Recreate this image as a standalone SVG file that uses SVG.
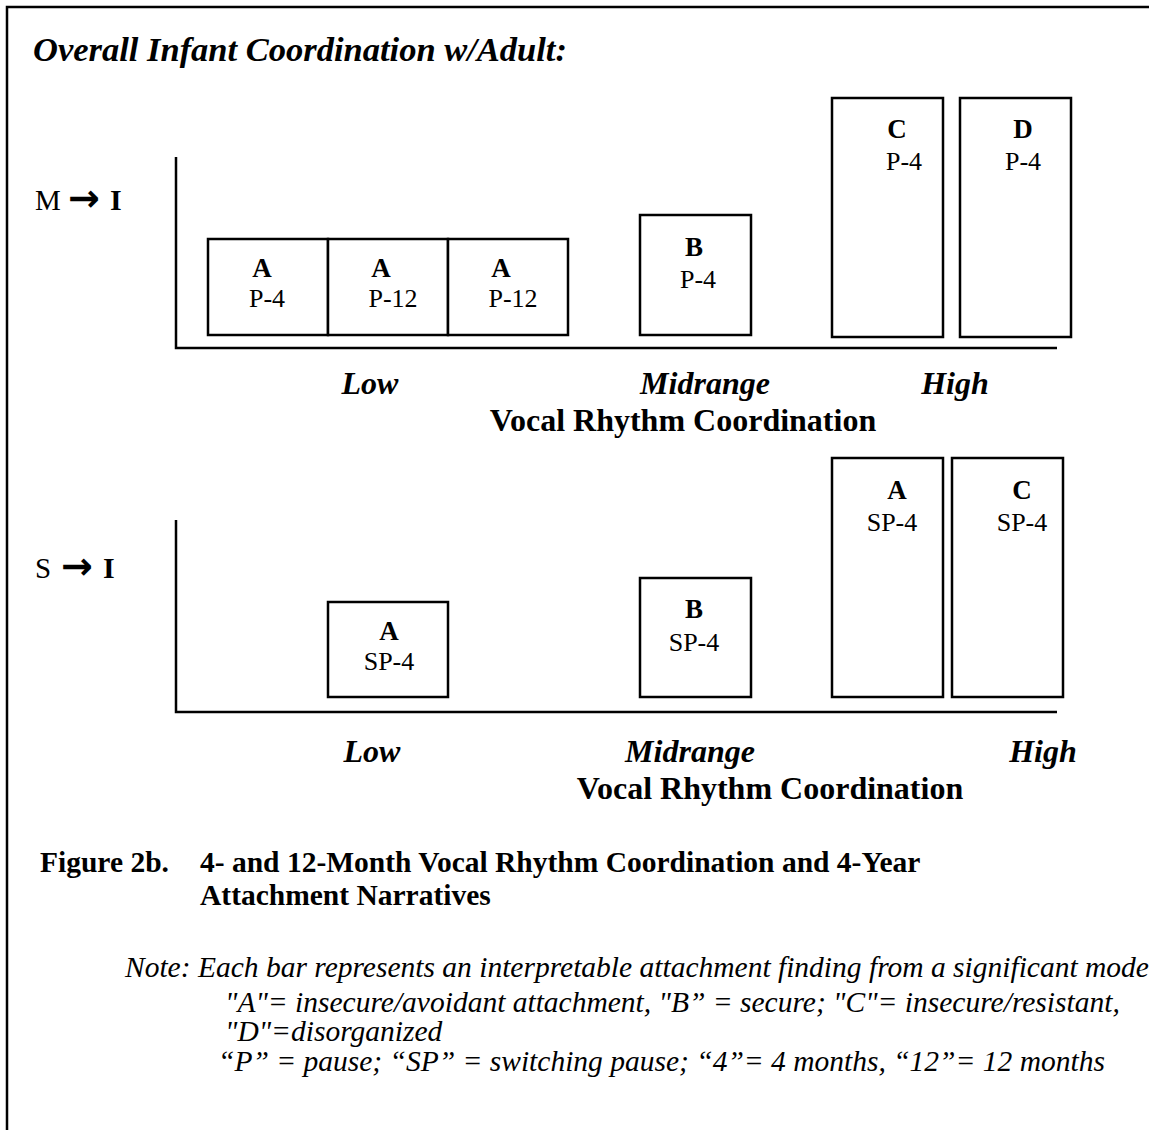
<svg xmlns="http://www.w3.org/2000/svg" width="1149" height="1130" viewBox="0 0 1149 1130">
<style>
text{font-family:"Liberation Serif","Times New Roman",serif;fill:#000}
.t{font-size:34.5px;font-weight:bold;font-style:italic}
.lab{font-size:29px}
.b{font-weight:bold;font-size:30px}
.arr{font-family:"DejaVu Sans",sans-serif;font-weight:bold;font-size:38px}
.bar{fill:#fff;stroke:#000;stroke-width:2.5}
.ax{stroke:#000;stroke-width:2.5;fill:none}
.ltr{font-size:27px;font-weight:bold;text-anchor:middle}
.cd{font-size:26px;text-anchor:middle}
.rng{font-size:32px;font-weight:bold;font-style:italic;text-anchor:middle}
.vt{font-size:32px;font-weight:bold;text-anchor:middle}
.cap{font-size:29.5px;font-weight:bold}
.note{font-size:29.5px;font-style:italic}
</style>
<g id="frame"><path class="ax" d="M7 1130 V7 H1149"/></g>
<text id="title" class="t" x="33" y="61">Overall Infant Coordination w/Adult:</text>

<g id="chart1">
<text class="lab" x="35" y="210">M<tspan class="arr" x="68" dy="1">→</tspan><tspan class="b" x="110" dy="-1">I</tspan></text>
<g id="axes1"><path class="ax" d="M176 157 V348 H1057"/></g>
<g id="bar1-a1"><rect class="bar" x="208" y="239" width="120" height="96"/><text class="ltr" x="262" y="277">A</text><text class="cd" x="267" y="307">P-4</text></g>
<g id="bar1-a2"><rect class="bar" x="328" y="239" width="120" height="96"/><text class="ltr" x="381" y="277">A</text><text class="cd" x="393" y="307">P-12</text></g>
<g id="bar1-a3"><rect class="bar" x="448" y="239" width="120" height="96"/><text class="ltr" x="501" y="277">A</text><text class="cd" x="513" y="307">P-12</text></g>
<g id="bar1-b"><rect class="bar" x="640" y="215" width="111" height="120"/><text class="ltr" x="694" y="256">B</text><text class="cd" x="698" y="288">P-4</text></g>
<g id="bar1-c"><rect class="bar" x="832" y="98" width="111" height="239"/><text class="ltr" x="897" y="138">C</text><text class="cd" x="904" y="170">P-4</text></g>
<g id="bar1-d"><rect class="bar" x="960" y="98" width="111" height="239"/><text class="ltr" x="1023" y="138">D</text><text class="cd" x="1023" y="170">P-4</text></g>
<text class="rng" x="370" y="394">Low</text>
<text class="rng" x="705" y="394">Midrange</text>
<text class="rng" x="955" y="394">High</text>
<text class="vt" x="683" y="431">Vocal Rhythm Coordination</text>
</g>

<g id="chart2">
<text class="lab" x="35" y="578">S<tspan class="arr" x="61" dy="1">→</tspan><tspan class="b" x="103" dy="-1">I</tspan></text>
<g id="axes2"><path class="ax" d="M176 520 V712 H1057"/></g>
<g id="bar2-a1"><rect class="bar" x="328" y="602" width="120" height="95"/><text class="ltr" x="389" y="640">A</text><text class="cd" x="389" y="670">SP-4</text></g>
<g id="bar2-b"><rect class="bar" x="640" y="578" width="111" height="119"/><text class="ltr" x="694" y="618">B</text><text class="cd" x="694" y="651">SP-4</text></g>
<g id="bar2-a2"><rect class="bar" x="832" y="458" width="111" height="239"/><text class="ltr" x="897" y="499">A</text><text class="cd" x="892" y="531">SP-4</text></g>
<g id="bar2-c"><rect class="bar" x="952" y="458" width="111" height="239"/><text class="ltr" x="1022" y="499">C</text><text class="cd" x="1022" y="531">SP-4</text></g>
<text class="rng" x="372" y="762">Low</text>
<text class="rng" x="690" y="762">Midrange</text>
<text class="rng" x="1043" y="762">High</text>
<text class="vt" x="770" y="799">Vocal Rhythm Coordination</text>
</g>

<g id="caption">
<text class="cap" x="40" y="872">Figure 2b.</text>
<text class="cap" x="200" y="872">4- and 12-Month Vocal Rhythm Coordination and 4-Year</text>
<text class="cap" x="200" y="905">Attachment Narratives</text>
</g>
<g id="note">
<text class="note" x="125" y="977">Note: Each bar represents an interpretable attachment finding from a significant mode</text>
<text class="note" x="225" y="1012">"A"= insecure/avoidant attachment, "B” = secure; "C"= insecure/resistant,</text>
<text class="note" x="225" y="1041">"D"=disorganized</text>
<text class="note" x="218" y="1071">“P” = pause; “SP” = switching pause; “4”= 4 months, “12”= 12 months</text>
</g>
</svg>
